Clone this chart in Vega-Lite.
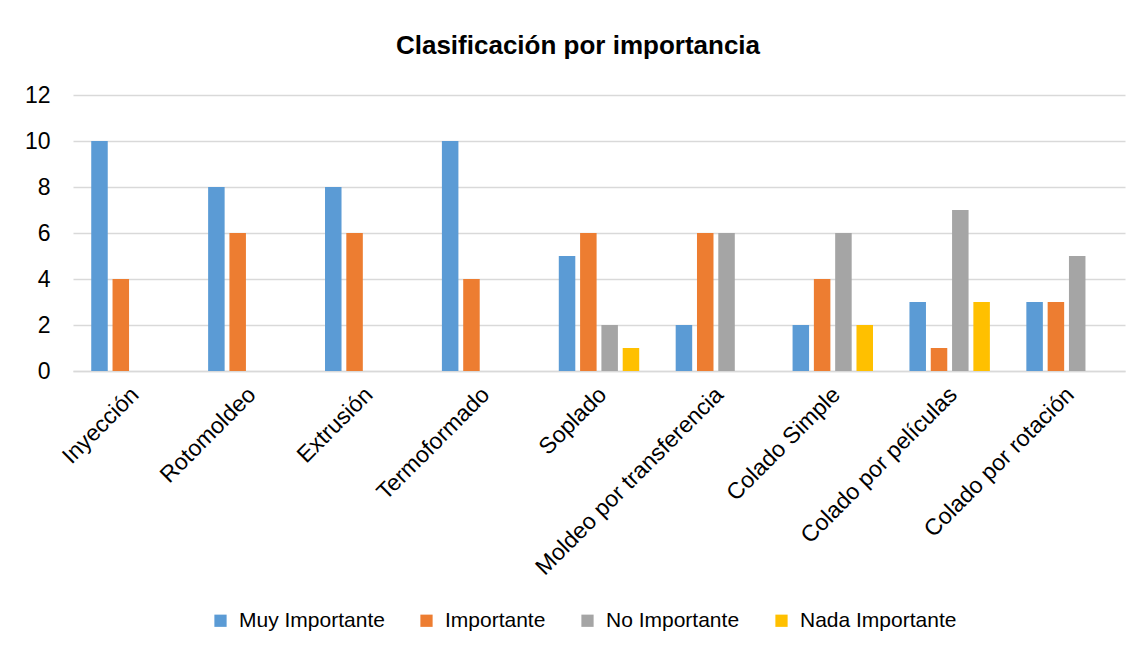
{
  "$schema": "https://vega.github.io/schema/vega-lite/v6.json",
  "autosize": {"type": "none"},
  "width": 1052,
  "height": 276,
  "padding": {"left": 73, "top": 95, "right": 20, "bottom": 285},
  "background": "#ffffff",
  "title": {
    "text": "Clasificación por importancia",
    "font": "Liberation Sans",
    "fontSize": 26,
    "fontWeight": "bold",
    "color": "#000000",
    "anchor": "middle",
    "frame": "group",
    "baseline": "alphabetic",
    "dx": -21,
    "offset": 4
  },
  "data": {
    "values": [
      {"proceso": "Inyección", "nivel": "Muy Importante", "valor": 10},
      {"proceso": "Inyección", "nivel": "Importante", "valor": 4},
      {"proceso": "Inyección", "nivel": "No Importante", "valor": 0},
      {"proceso": "Inyección", "nivel": "Nada Importante", "valor": 0},
      {"proceso": "Rotomoldeo", "nivel": "Muy Importante", "valor": 8},
      {"proceso": "Rotomoldeo", "nivel": "Importante", "valor": 6},
      {"proceso": "Rotomoldeo", "nivel": "No Importante", "valor": 0},
      {"proceso": "Rotomoldeo", "nivel": "Nada Importante", "valor": 0},
      {"proceso": "Extrusión", "nivel": "Muy Importante", "valor": 8},
      {"proceso": "Extrusión", "nivel": "Importante", "valor": 6},
      {"proceso": "Extrusión", "nivel": "No Importante", "valor": 0},
      {"proceso": "Extrusión", "nivel": "Nada Importante", "valor": 0},
      {"proceso": "Termoformado", "nivel": "Muy Importante", "valor": 10},
      {"proceso": "Termoformado", "nivel": "Importante", "valor": 4},
      {"proceso": "Termoformado", "nivel": "No Importante", "valor": 0},
      {"proceso": "Termoformado", "nivel": "Nada Importante", "valor": 0},
      {"proceso": "Soplado", "nivel": "Muy Importante", "valor": 5},
      {"proceso": "Soplado", "nivel": "Importante", "valor": 6},
      {"proceso": "Soplado", "nivel": "No Importante", "valor": 2},
      {"proceso": "Soplado", "nivel": "Nada Importante", "valor": 1},
      {"proceso": "Moldeo por transferencia", "nivel": "Muy Importante", "valor": 2},
      {"proceso": "Moldeo por transferencia", "nivel": "Importante", "valor": 6},
      {"proceso": "Moldeo por transferencia", "nivel": "No Importante", "valor": 6},
      {"proceso": "Moldeo por transferencia", "nivel": "Nada Importante", "valor": 0},
      {"proceso": "Colado Simple", "nivel": "Muy Importante", "valor": 2},
      {"proceso": "Colado Simple", "nivel": "Importante", "valor": 4},
      {"proceso": "Colado Simple", "nivel": "No Importante", "valor": 6},
      {"proceso": "Colado Simple", "nivel": "Nada Importante", "valor": 2},
      {"proceso": "Colado por películas", "nivel": "Muy Importante", "valor": 3},
      {"proceso": "Colado por películas", "nivel": "Importante", "valor": 1},
      {"proceso": "Colado por películas", "nivel": "No Importante", "valor": 7},
      {"proceso": "Colado por películas", "nivel": "Nada Importante", "valor": 3},
      {"proceso": "Colado por rotación", "nivel": "Muy Importante", "valor": 3},
      {"proceso": "Colado por rotación", "nivel": "Importante", "valor": 3},
      {"proceso": "Colado por rotación", "nivel": "No Importante", "valor": 5},
      {"proceso": "Colado por rotación", "nivel": "Nada Importante", "valor": 0}
    ]
  },
  "mark": {"type": "bar"},
  "encoding": {
    "x": {
      "field": "proceso",
      "type": "nominal",
      "sort": null,
      "scale": {"paddingInner": 0.312, "paddingOuter": 0.156},
      "axis": {
        "title": null,
        "labelAngle": -45,
        "labelFont": "Liberation Sans",
        "labelFontSize": 23,
        "labelColor": "#000000",
        "labelPadding": 12,
        "labelOffset": -4,
        "ticks": false,
        "domain": true,
        "domainColor": "#D9D9D9",
        "domainWidth": 1.5,
        "grid": false,
        "labelOverlap": false,
        "labelLimit": 400
      }
    },
    "xOffset": {
      "field": "nivel",
      "type": "nominal",
      "sort": ["Muy Importante", "Importante", "No Importante", "Nada Importante"],
      "scale": {"paddingInner": 0.225, "paddingOuter": 0}
    },
    "y": {
      "field": "valor",
      "type": "quantitative",
      "scale": {"domain": [0, 12], "nice": false},
      "axis": {
        "title": null,
        "values": [0, 2, 4, 6, 8, 10, 12],
        "labelFont": "Liberation Sans",
        "labelFontSize": 23,
        "labelColor": "#000000",
        "labelPadding": 23,
        "ticks": false,
        "domain": false,
        "grid": true,
        "gridColor": "#D9D9D9",
        "gridWidth": 1.5
      }
    },
    "color": {
      "field": "nivel",
      "type": "nominal",
      "scale": {
        "domain": ["Muy Importante", "Importante", "No Importante", "Nada Importante"],
        "range": ["#5B9BD5", "#ED7D31", "#A5A5A5", "#FFC000"]
      },
      "legend": {
        "title": null,
        "orient": "none",
        "direction": "horizontal",
        "legendX": 137,
        "legendY": 515,
        "symbolType": "square",
        "symbolSize": 150,
        "symbolStrokeWidth": 0,
        "labelFont": "Liberation Sans",
        "labelFontSize": 21,
        "labelColor": "#000000",
        "labelOffset": 8,
        "columnPadding": 31,
        "labelLimit": 300
      }
    }
  },
  "config": {
    "view": {"stroke": null}
  }
}
